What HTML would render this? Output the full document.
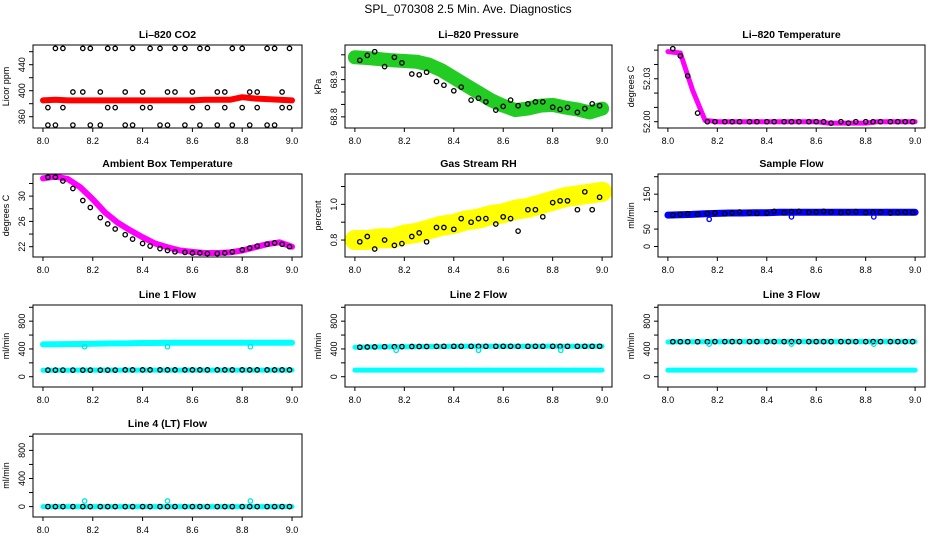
<!DOCTYPE html>
<html><head><meta charset="utf-8"><style>
html,body{margin:0;padding:0;background:#fff}
svg{display:block;font-family:"Liberation Sans",sans-serif}
</style></head><body>
<svg id="c" width="936" height="540" viewBox="0 0 936 540">
<text x="468" y="13" text-anchor="middle" font-size="12">SPL_070308  2.5 Min. Ave. Diagnostics</text>
</svg>
<script>
const xTicks=[8.0,8.2,8.4,8.6,8.8,9.0];
const xTickLabels=["8.0","8.2","8.4","8.6","8.8","9.0"];
const BX=[8.00,8.05,8.10,8.15,8.20,8.25,8.30,8.35,8.40,8.45,8.50,8.55,8.60,8.65,8.70,8.75,8.80,8.85,8.90,8.95,9.00];
const XS=[8.02,8.05,8.08,8.12,8.16,8.19,8.23,8.26,8.29,8.33,8.36,8.40,8.43,8.47,8.50,8.53,8.57,8.60,8.63,8.66,8.70,8.73,8.76,8.80,8.83,8.86,8.90,8.93,8.96,8.99];
const co2Band=[385,386,385,385,385,385,385,385,385,385,385,385,385,386,386,386,390,388,387,386,385];
const co2Black=[347,465,374,398,465,347,398,374,465,398,347,374,465,347,398,465,347,398,465,374,347,398,465,374,347,398,465,347,374,465];
const co2Black2=[374,347,465,347,398,465,347,465,374,347,465,398,374,465,347,398,465,374,347,465,398,374,347,465,398,374,347,465,398,374];
const pressBand=[68.960,68.958,68.955,68.952,68.950,68.948,68.940,68.925,68.905,68.885,68.865,68.845,68.830,68.818,68.822,68.830,68.832,68.825,68.820,68.812,68.822];
const pressBlack=[68.952,68.965,68.975,68.935,68.960,68.945,68.915,68.913,68.920,68.895,68.885,68.870,68.880,68.845,68.850,68.840,68.818,68.828,68.845,68.830,68.835,68.840,68.840,68.826,68.820,68.825,68.812,68.822,68.835,68.830];
const tempBand=[52.049,52.048,52.022,52.001,52.000,52.000,52.000,52.000,52.000,52.000,52.000,52.000,52.000,51.999,51.999,51.999,51.999,52.000,52.000,52.000,52.000];
const tempBlack=[52.051,52.046,52.032,52.006,52.000,52.000,52.000,52.000,52.000,52.000,52.000,52.000,52.000,52.000,52.000,52.000,52.000,52.000,52.000,51.999,52.000,51.999,52.000,52.000,52.000,52.000,52.000,52.000,52.000,52.000];
const ambBand=[32.8,33.1,32.7,31.4,29.5,27.4,25.8,24.6,23.5,22.5,21.9,21.4,21.2,21.0,21.0,21.1,21.4,21.9,22.4,22.7,22.0];
const ambBlack=[33.0,33.0,32.4,31.2,29.3,28.2,26.6,25.6,24.8,23.9,23.2,22.5,22.1,21.7,21.4,21.2,21.1,21.0,21.0,20.9,20.9,21.0,21.2,21.5,21.8,22.1,22.4,22.6,22.4,22.0];
const rhBand=[0.80,0.80,0.81,0.81,0.83,0.84,0.86,0.88,0.89,0.91,0.92,0.94,0.95,0.97,0.98,1.00,1.02,1.04,1.05,1.06,1.07];
const rhBlack=[0.79,0.82,0.75,0.80,0.77,0.78,0.82,0.84,0.79,0.87,0.87,0.86,0.92,0.90,0.92,0.92,0.89,0.93,0.92,0.85,0.97,0.97,0.93,1.01,1.02,1.02,0.97,1.07,0.97,1.04];
const sampleBand=[90,91,92,94,95,96,96,97,97,98,98,98,98,98,98,98,98,98,98,98,98];
const sampleBlack=[90,92,94,92,95,96,94,96,99,97,95,96,101,97,100,101,98,99,101,99,97,99,100,97,98,99,96,97,98,97];
const line1Cyan=[465,468,470,472,475,478,480,482,485,486,488,488,488,488,488,488,488,488,488,488,488];
const line1CyanLow=[92,92,92,95,96,96,96,96,96,96,96,96,96,96,96,96,96,96,96,96,96];
const line1Black=[96,96,96,96,96,96,96,96,96,98,98,98,98,98,98,98,98,98,98,98,98,98,98,98,98,98,98,98,98,98];
const line2Cyan=[425,428,430,432,432,434,435,436,437,438,438,438,438,438,438,438,438,438,438,438,438];
const line2CyanLow=[95,95,95,95,95,96,96,96,96,96,96,96,96,96,96,96,96,96,96,96,96];
const line2Black=[425,428,430,432,432,434,435,436,436,437,438,438,438,438,438,438,438,438,438,438,438,438,438,438,438,438,438,438,438,438];
const line3Cyan=[500,505,505,505,505,506,506,506,506,506,506,506,506,506,506,506,506,506,506,506,506];
const line3CyanLow=[95,95,95,95,95,96,96,96,96,96,96,96,96,96,96,96,96,96,96,96,96];
const line3Black=[505,505,505,505,505,506,506,506,506,506,506,506,506,506,506,506,506,506,506,506,506,506,506,506,506,506,506,506,506,506];
const line4Cyan=[0,0,0,0,0,0,0,0,0,0,0,0,0,0,0,0,0,0,0,0,0];
const line4Black=[0,0,0,0,0,0,0,0,0,0,0,0,0,0,0,0,0,0,0,0,0,0,0,0,0,0,0,0,0,0];
const blipX=[8.167,8.5,8.833];
const blipLine1=[432,432,432];
const blipLine2=[380,380,380];
const blipLine3=[470,470,470];
const blipLine4=[80,80,80];
const blipSample=[78,85,85];

const NS="http://www.w3.org/2000/svg";
const svg=document.getElementById('c');
function mk(tag,attrs,parent){const e=document.createElementNS(NS,tag);for(const k in attrs)e.setAttribute(k,attrs[k]);(parent||svg).appendChild(e);return e;}
const colX=[[33,302],[345,612],[658,925]];
const rowY=[[45,128],[174,257],[305,387],[434,517]];
const flowTicks=[0,200,400,600,800,1000],flowLabels=["0","","400","","800",""];
const panels=[
 {c:0,r:0,name:'co2',title:'Li\u2013820 CO2',ylab:'Licor ppm',ymin:342.6,ymax:470.3,ticks:[360,380,400,420,440,460],labels:["360","","400","","440",""],
  bands:[{y:co2Band,col:'#ff0000',w:6}],pts:[{x:XS,y:co2Black,col:'#000'},{x:XS,y:co2Black2,col:'#000'}]},
 {c:1,r:0,name:'pressure',title:'Li\u2013820 Pressure',ylab:'kPa',ymin:68.770,ymax:68.993,ticks:[68.8,68.8333,68.8667,68.9,68.9333,68.9667],labels:["68.8","","","68.9","",""],
  bands:[{y:pressBand,col:'#22cc22',w:14}],pts:[{x:XS,y:pressBlack,col:'#000'}]},
 {c:2,r:0,name:'licor-temp',title:'Li\u2013820 Temperature',ylab:'degrees C',ymin:51.9956,ymax:52.0536,ticks:[52.00,52.01,52.02,52.03,52.04,52.05],labels:["52.00","","","52.03","",""],
  bands:[{y:tempBand,col:'#ff00ff',w:5}],pts:[{x:XS,y:tempBlack,col:'#000'}]},
 {c:0,r:1,name:'ambient-temp',title:'Ambient Box Temperature',ylab:'degrees C',ymin:20.37,ymax:33.5,ticks:[22,24,26,28,30,32],labels:["22","","26","","30",""],
  bands:[{y:ambBand,col:'#ff00ff',w:6}],pts:[{x:XS,y:ambBlack,col:'#000'}]},
 {c:1,r:1,name:'gas-rh',title:'Gas Stream RH',ylab:'percent',ymin:0.705,ymax:1.17,ticks:[0.8,0.9,1.0,1.1],labels:["0.8","","1.0",""],
  bands:[{y:rhBand,col:'#ffff00',w:20}],pts:[{x:XS,y:rhBlack,col:'#000'}]},
 {c:2,r:1,name:'sample-flow',title:'Sample Flow',ylab:'ml/min',ymin:-30,ymax:207.8,ticks:[0,50,100,150,200],labels:["0","50","","150",""],
  bands:[{y:sampleBand,col:'#0000ff',w:7}],pts:[{x:XS,y:sampleBlack,col:'#000'},{x:blipX,y:blipSample,col:'#0000ff'}]},
 {c:0,r:2,name:'line1-flow',title:'Line 1 Flow',ylab:'ml/min',ymin:-148,ymax:1033,ticks:flowTicks,labels:flowLabels,
  bands:[{y:line1Cyan,col:'#00ffff',w:6},{y:line1CyanLow,col:'#00ffff',w:5}],pts:[{x:XS,y:line1Black,col:'#000'},{x:blipX,y:blipLine1,col:'#00e5e5'}]},
 {c:1,r:2,name:'line2-flow',title:'Line 2 Flow',ylab:'ml/min',ymin:-148,ymax:1033,ticks:flowTicks,labels:flowLabels,
  bands:[{y:line2Cyan,col:'#00ffff',w:5},{y:line2CyanLow,col:'#00ffff',w:5}],pts:[{x:XS,y:line2Black,col:'#000'},{x:blipX,y:blipLine2,col:'#00e5e5'}]},
 {c:2,r:2,name:'line3-flow',title:'Line 3 Flow',ylab:'ml/min',ymin:-148,ymax:1033,ticks:flowTicks,labels:flowLabels,
  bands:[{y:line3Cyan,col:'#00ffff',w:5},{y:line3CyanLow,col:'#00ffff',w:5}],pts:[{x:XS,y:line3Black,col:'#000'},{x:blipX,y:blipLine3,col:'#00e5e5'}]},
 {c:0,r:3,name:'line4-flow',title:'Line 4 (LT) Flow',ylab:'ml/min',ymin:-148,ymax:1033,ticks:flowTicks,labels:flowLabels,
  bands:[{y:line4Cyan,col:'#00ffff',w:5}],pts:[{x:XS,y:line4Black,col:'#000'},{x:blipX,y:blipLine4,col:'#00e5e5'}]}
];
panels.forEach(p=>{
  const [x0,x1]=colX[p.c],[y0,y1]=rowY[p.r];
  const g=mk('g',{});
  
  
  const sx=v=>x0+(v-7.96)/(9.04-7.96)*(x1-x0);
  const sy=v=>y1-(v-p.ymin)/(p.ymax-p.ymin)*(y1-y0);
  const cx=(x0+x1)/2;
  const t=mk('text',{x:cx,y:y0-7,'text-anchor':'middle','font-size':'10.5','font-weight':'bold'},g);t.textContent=p.title;
  
  
  const yl=mk('text',{transform:`translate(${x0-24},${(y0+y1)/2}) rotate(-90)`,'text-anchor':'middle','font-size':'9'},g);yl.textContent=p.ylab;
  
  
  p.bands.forEach(b=>{
    const pl=mk('polyline',{points:BX.map((x,i)=>sx(x).toFixed(1)+','+sy(b.y[i]).toFixed(1)).join(' '),fill:'none',stroke:b.col,'stroke-width':b.w,'stroke-linejoin':'round','stroke-linecap':'round'},g);
    
    
  });
  p.pts.forEach(s=>{
    s.x.forEach((x,i)=>{
      const c=mk('circle',{cx:sx(x).toFixed(1),cy:sy(s.y[i]).toFixed(1),r:2.2,fill:'none',stroke:s.col,'stroke-width':1.3},g);
      
      
    });
  });
  const box=mk('rect',{x:x0,y:y0,width:x1-x0,height:y1-y0,fill:'none',stroke:'#000','stroke-width':1},g);
  
  
  xTicks.forEach((v,i)=>{
    const X=sx(v);
    mk('line',{x1:X,x2:X,y1:y1,y2:y1+4,stroke:'#000'},g);
    const tl=mk('text',{x:X,y:y1+16,'text-anchor':'middle','font-size':'9'},g);tl.textContent=xTickLabels[i];
    
    
  });
  p.ticks.forEach((v,i)=>{
    const Y=sy(v);
    mk('line',{x1:x0-4,x2:x0,y1:Y,y2:Y,stroke:'#000'},g);
    if(p.labels[i]){
      const tl=mk('text',{transform:`translate(${x0-8},${Y}) rotate(-90)`,'text-anchor':'middle','font-size':'9'},g);tl.textContent=p.labels[i];
      
      
    }
  });
});
</script>
</body></html>
